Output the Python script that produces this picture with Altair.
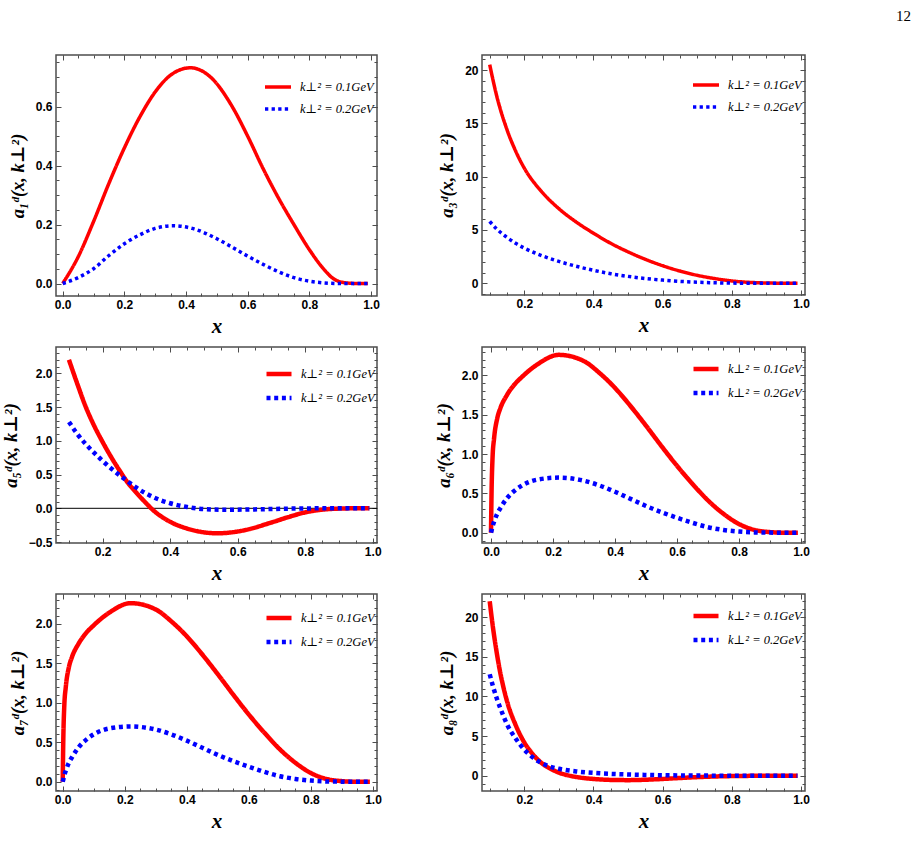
import math
import altair as alt
import pandas as pd

# ---------------- data ----------------
SERIES = ["k⊥² = 0.1GeV", "k⊥² = 0.2GeV"]
COLORS = ["#ff0000", "#0000ff"]

# panel a1
X1_RED = [0, 0.05, 0.1, 0.15, 0.2, 0.25, 0.3, 0.35, 0.414, 0.48, 0.55, 0.6, 0.65, 0.7, 0.75, 0.8, 0.85, 0.88, 0.92, 0.96, 0.99]
A1_RED = [0, 0.09, 0.21, 0.34, 0.46, 0.565, 0.65, 0.707, 0.732, 0.7, 0.6, 0.5, 0.39, 0.29, 0.2, 0.115, 0.045, 0.015, 0.002, 0, 0]
X1_BLUE = [0, 0.05, 0.1, 0.15, 0.2, 0.25, 0.3, 0.357, 0.42, 0.5, 0.55, 0.6, 0.65, 0.7, 0.75, 0.8, 0.85, 0.9, 0.95, 0.99]
A1_BLUE = [0, 0.02, 0.05, 0.095, 0.135, 0.165, 0.187, 0.196, 0.187, 0.152, 0.123, 0.093, 0.065, 0.04, 0.02, 0.008, 0.002, 0, 0, 0]

# panel a3
X3 = [0.1, 0.12, 0.15, 0.175, 0.2, 0.25, 0.3, 0.35, 0.4, 0.45, 0.5, 0.55, 0.6, 0.65, 0.7, 0.75, 0.8, 0.85, 0.9, 0.95, 0.99]
A3_RED = [20.5, 17.6, 14.4, 12.4, 10.8, 8.6, 7.0, 5.75, 4.7, 3.75, 2.95, 2.25, 1.65, 1.15, 0.75, 0.45, 0.22, 0.09, 0.03, 0.005, 0]
A3_BLUE = [5.8, 5.1, 4.3, 3.75, 3.3, 2.6, 2.05, 1.6, 1.22, 0.9, 0.65, 0.45, 0.3, 0.18, 0.1, 0.05, 0.02, 0.006, 0.001, 0, 0]

# panel a5
X5_RED = [0.1, 0.125, 0.15, 0.175, 0.2, 0.225, 0.25, 0.275, 0.3, 0.325, 0.35, 0.4, 0.45, 0.54, 0.62, 0.7, 0.75, 0.8, 0.85, 0.9, 0.95, 0.99]
A5_RED = [2.2, 1.84, 1.5, 1.22, 0.98, 0.76, 0.56, 0.375, 0.23, 0.095, -0.03, -0.2, -0.3, -0.37, -0.325, -0.21, -0.13, -0.06, -0.02, -0.004, 0, 0]
X5_BLUE = [0.1, 0.125, 0.15, 0.175, 0.2, 0.225, 0.25, 0.275, 0.3, 0.35, 0.4, 0.45, 0.5, 0.57, 0.65, 0.7, 0.75, 0.8, 0.85, 0.9, 0.95, 0.99]
A5_BLUE = [1.28, 1.1, 0.95, 0.82, 0.7, 0.59, 0.49, 0.395, 0.305, 0.165, 0.075, 0.02, -0.012, -0.021, -0.016, -0.01, -0.005, -0.002, 0, 0, 0, 0]
ZERO_LINE = [0]

# panel a6
X6 = [0, 0.002, 0.005, 0.01, 0.02, 0.03, 0.05, 0.075, 0.1, 0.15, 0.219, 0.3, 0.35, 0.4, 0.45, 0.5, 0.55, 0.6, 0.65, 0.7, 0.75, 0.8, 0.85, 0.9, 0.95, 0.99]
A6_RED = [0, 0.55, 0.95, 1.2, 1.45, 1.58, 1.74, 1.88, 1.98, 2.14, 2.26, 2.18, 2.03, 1.84, 1.61, 1.36, 1.1, 0.85, 0.62, 0.41, 0.24, 0.11, 0.035, 0.008, 0, 0]
A6_BLUE = [0, 0.03, 0.08, 0.14, 0.24, 0.31, 0.43, 0.53, 0.6, 0.675, 0.70, 0.66, 0.6, 0.52, 0.43, 0.34, 0.26, 0.19, 0.125, 0.07, 0.035, 0.015, 0.004, 0.001, 0, 0]

# panel a7
X7 = [0, 0.002, 0.005, 0.01, 0.02, 0.03, 0.05, 0.075, 0.1, 0.15, 0.219, 0.3, 0.35, 0.4, 0.45, 0.5, 0.55, 0.6, 0.65, 0.7, 0.75, 0.8, 0.85, 0.9, 0.95, 0.99]
A7_RED = [0, 0.55, 0.95, 1.2, 1.45, 1.58, 1.74, 1.88, 1.98, 2.14, 2.26, 2.18, 2.03, 1.84, 1.61, 1.36, 1.1, 0.85, 0.62, 0.41, 0.24, 0.11, 0.035, 0.008, 0, 0]
A7_BLUE = [0, 0.03, 0.08, 0.14, 0.24, 0.31, 0.43, 0.53, 0.6, 0.675, 0.70, 0.66, 0.6, 0.52, 0.43, 0.34, 0.26, 0.19, 0.125, 0.07, 0.035, 0.015, 0.004, 0.001, 0, 0]

# panel a8
X8 = [0.1, 0.11, 0.12, 0.13, 0.14, 0.15, 0.175, 0.2, 0.225, 0.25, 0.275, 0.3, 0.35, 0.4, 0.45, 0.5, 0.55, 0.6, 0.65, 0.7, 0.75, 0.8, 0.85, 0.9, 0.95, 0.99]
A8_RED = [22, 18.5, 15.6, 13.1, 11.1, 9.4, 6.4, 4.2, 2.7, 1.6, 0.9, 0.4, -0.15, -0.4, -0.52, -0.55, -0.5, -0.4, -0.28, -0.17, -0.09, -0.04, -0.012, -0.003, 0, 0]
A8_BLUE = [12.8, 11.2, 9.8, 8.6, 7.5, 6.5, 4.7, 3.3, 2.3, 1.6, 1.15, 0.88, 0.55, 0.36, 0.24, 0.16, 0.11, 0.07, 0.045, 0.028, 0.016, 0.008, 0.003, 0, 0, 0]

# tick labels
X_TICKS_0 = [0.0, 0.2, 0.4, 0.6, 0.8, 1.0]
X_TICKS_2 = [0.2, 0.4, 0.6, 0.8, 1.0]
Y_TICKS_1 = [0.0, 0.2, 0.4, 0.6]
Y_TICKS_3 = [0, 5, 10, 15, 20]
Y_TICKS_5 = [-0.5, 0.0, 0.5, 1.0, 1.5, 2.0]
Y_TICKS_6 = [0.0, 0.5, 1.0, 1.5, 2.0]
Y_TICKS_8 = [0, 5, 10, 15, 20]

# ---------------- styling ----------------
SANS = "Liberation Sans, Arial, sans-serif"
SERIF = "Liberation Serif, DejaVu Serif, DejaVu Sans, serif"
FRAME = "#4d4d4d"


def minor_ticks(dom, step):
    lo, hi = dom
    n0 = math.ceil(lo / step - 1e-9)
    n1 = math.floor(hi / step + 1e-9)
    return [round(i * step, 6) for i in range(n0, n1 + 1)]


def inside(vals, dom):
    return [v for v in vals if dom[0] - 1e-9 <= v <= dom[1] + 1e-9]


def make_df(xr, red, xb, blue):
    return pd.DataFrame({
        "x": list(xr) + list(xb),
        "y": list(red) + list(blue),
        "series": [SERIES[0]] * len(xr) + [SERIES[1]] * len(xb),
    })


def panel(xr, red, xb, blue, xdom, ydom, xmaj, ymaj, xstep, ystep, xfmt, yfmt,
          ytitle, w, h, lw, dash, legx, legy, symlen, zero=False):
    df = make_df(xr, red, xb, blue)
    xsc = alt.Scale(domain=xdom, nice=False, zero=False)
    ysc = alt.Scale(domain=ydom, nice=False, zero=False)
    xmaj = inside(xmaj, xdom)
    ymaj = inside(ymaj, ydom)
    leg = alt.Legend(
        title=None, orient="none", legendX=legx, legendY=legy,
        symbolType="stroke", symbolSize=symlen * symlen, symbolStrokeWidth=lw,
        labelFont=SERIF, labelFontStyle="italic", labelFontSize=12.5,
        labelColor="black", labelOffset=7, padding=0, rowPadding=0,
    )
    lines = alt.Chart(df).mark_line(
        strokeWidth=lw, interpolate="monotone", clip=True, strokeCap="butt"
    ).encode(
        x=alt.X("x:Q", scale=xsc, axis=alt.Axis(
            values=xmaj, format=xfmt, title="x", ticks=False, domain=False,
            grid=False, labelPadding=3, titlePadding=5, labelFlush=False,
            labelOverlap=False, titleFontSize=21)),
        y=alt.Y("y:Q", scale=ysc, axis=alt.Axis(
            values=ymaj, format=yfmt, title=ytitle, ticks=False, domain=False,
            grid=False, labelPadding=4, titlePadding=8, labelFlush=False,
            labelOverlap=False, titleFontSize=18.5)),
        color=alt.Color("series:N", scale=alt.Scale(domain=SERIES, range=COLORS), legend=leg),
        strokeDash=alt.StrokeDash("series:N", scale=alt.Scale(domain=SERIES, range=[[1, 0], dash]), legend=leg),
    )

    def tick_layer(xo, yo, xv, yv, size):
        return alt.Chart(df).mark_point(opacity=0).encode(
            x=alt.X("x:Q", scale=xsc, axis=alt.Axis(
                orient=xo, values=xv, tickSize=size, offset=-size, labels=False,
                domain=False, grid=False, title=None, tickColor=FRAME, tickWidth=1)),
            y=alt.Y("y:Q", scale=ysc, axis=alt.Axis(
                orient=yo, values=yv, tickSize=size, offset=-size, labels=False,
                domain=False, grid=False, title=None, tickColor=FRAME, tickWidth=1)),
        )

    xmin = minor_ticks(xdom, xstep)
    ymin = minor_ticks(ydom, ystep)
    layers = [
        lines,
        tick_layer("bottom", "left", xmaj, ymaj, 5),
        tick_layer("bottom", "left", xmin, ymin, 3),
        tick_layer("top", "right", xmaj, ymaj, 5),
        tick_layer("top", "right", xmin, ymin, 3),
    ]
    if zero:
        zdf = pd.DataFrame({"y": ZERO_LINE})
        layers.insert(0, alt.Chart(zdf).mark_rule(color="black", strokeWidth=1).encode(
            y=alt.Y("y:Q", scale=ysc, axis=None)))
    return alt.layer(*layers).resolve_axis(x="independent", y="independent").properties(
        width=w, height=h)


p1 = panel(X1_RED, A1_RED, X1_BLUE, A1_BLUE, [-0.0217, 1.0195], [-0.0424, 0.7754], X_TICKS_0, Y_TICKS_1,
           0.05, 0.05, ".1f", ".1f", "a₁ᵈ(x, k⊥²)", 321, 241, 3.5, [3.3, 3.3], 207, 17, 26)
p2 = panel(X3, A3_RED, X3, A3_BLUE, [0.0777, 1.0116], [-1.097, 21.41], X_TICKS_2, Y_TICKS_3,
           0.05, 1, ".1f", "d", "a₃ᵈ(x, k⊥²)", 323, 240, 3.5, [3.3, 3.3], 209, 15, 26)
p3 = panel(X5_RED, A5_RED, X5_BLUE, A5_BLUE, [0.0616, 1.0127], [-0.514, 2.39], X_TICKS_2, Y_TICKS_5,
           0.05, 0.1, ".1f", ".1f", "a₅ᵈ(x, k⊥²)", 321, 196, 4.5, [4, 3.7], 208, 12, 25, zero=True)
p4 = panel(X6, A6_RED, X6, A6_BLUE, [-0.029, 1.0129], [-0.131, 2.36], X_TICKS_0, Y_TICKS_6,
           0.05, 0.1, ".1f", ".1f", "a₆ᵈ(x, k⊥²)", 323, 196, 4.5, [4, 3.7], 209, 7, 25)
p5 = panel(X7, A7_RED, X7, A7_BLUE, [-0.0216, 1.0129], [-0.117, 2.376], X_TICKS_0, Y_TICKS_6,
           0.05, 0.1, ".1f", ".1f", "a₇ᵈ(x, k⊥²)", 321, 197, 4.5, [4, 3.7], 208, 9, 25)
p6 = panel(X8, A8_RED, X8, A8_BLUE, [0.0777, 1.0116], [-1.92, 22.92], X_TICKS_2, Y_TICKS_8,
           0.05, 1, ".1f", "d", "a₈ᵈ(x, k⊥²)", 323, 197, 4.5, [4, 3.7], 209, 7, 25)

chart = alt.concat(
    p1, p2, p3, p4, p5, p6,
    columns=2,
    spacing=alt.RowColnumber(row=51, column=105),
    bounds="flush",
).resolve_scale(
    color="independent", strokeDash="independent"
).properties(
    title=alt.TitleParams(text="12", anchor="end", font=SERIF, fontSize=15,
                          fontWeight="normal", color="black", dx=101, offset=30),
    padding={"left": 0, "top": 8, "right": 5, "bottom": 5},
    background="white",
).configure_view(
    stroke=FRAME, strokeWidth=1.5
).configure_axis(
    labelFont=SANS, labelFontWeight="bold", labelFontSize=12, labelColor="black",
    titleFont=SERIF, titleFontWeight="bold", titleFontStyle="italic", titleColor="black",
)

chart.save("out.html", embed_options={"renderer": "svg", "actions": False})
